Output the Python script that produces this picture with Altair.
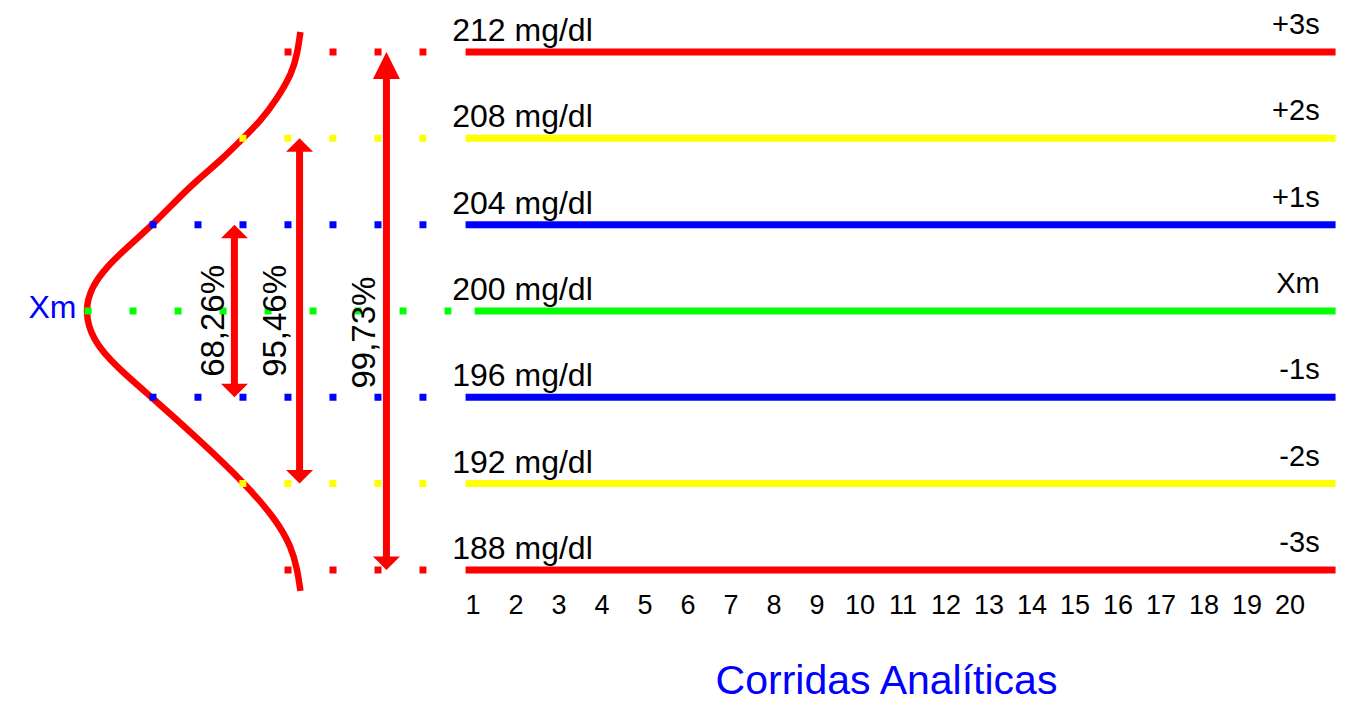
import altair as alt
import pandas as pd

FONT = "Liberation Sans"

# control levels (mg/dl) and their annotations
levels = [212, 208, 204, 200, 196, 192, 188]
level_text = ["212 mg/dl", "208 mg/dl", "204 mg/dl", "200 mg/dl", "196 mg/dl", "192 mg/dl", "188 mg/dl"]
sd_text = ["+3s", "+2s", "+1s", "Xm", "-1s", "-2s", "-3s"]
level_colors = ["#ff0000", "#ffff00", "#0000ff", "#00ff00", "#0000ff", "#ffff00", "#ff0000"]
line_start = [0.84, 0.84, 0.84, 1.05, 0.84, 0.84, 0.84]
line_end = [21.07, 21.07, 21.07, 21.07, 21.07, 21.07, 21.07]
dot_start = [-3.37, -4.42, -6.51, -8.02, -6.51, -4.42, -3.37]
dot_end = [-0.07, -0.07, -0.07, 0.51, -0.07, -0.07, -0.07]
runs = list(range(1, 21))

# bell curve
curve_x = [-3.00, -3.07, -3.19, -3.56, -3.91, -4.35, -4.84, -5.40, -5.88, -6.44, -7.02, -7.51, -7.86, -8.02,
           -7.84, -7.28, -6.44, -5.35, -4.30, -3.56, -3.21, -3.07, -3.00]
curve_y = [212.93, 211.96, 211.03, 209.78, 208.85, 207.97, 207.00, 206.07, 205.14, 203.99, 202.97, 202.04, 201.11, 200.0,
           198.66, 197.40, 195.97, 194.02, 192.03, 190.32, 189.06, 188.0, 187.03]

# percentage arrows
pct_text = ["68,26%", "95,46%", "99,73%"]
arrow_x = [-4.535, -3.02, -1.0]
arrow_top = [204, 208, 212]
arrow_bottom = [196, 192, 188]
pct_x = [-5.02, -3.56, -1.51]
pct_y = [199.54, 199.54, 199.0]

xm_left_x = -8.21
sd_label_x = 20.7
level_label_x = 0.53

X = alt.Scale(domain=[-9.8, 21.15], nice=False, zero=False)
Y = alt.Scale(domain=[187.07, 214.04], nice=False, zero=False)
TITLE = "Corridas Analíticas"
XAXIS = alt.Axis(values=runs, domain=False, ticks=False, tickSize=0, grid=False,
                 labelFontSize=27, labelFont=FONT, labelColor="black", labelPadding=2,
                 labelFlush=False, labelOverlap=False, format="d",
                 title=TITLE, titleFontSize=41, titleFont=FONT, titleColor="#0000ff",
                 titleFontWeight="normal", titleX=878, titleY=103, titleAlign="center",
                 titleBaseline="alphabetic")


def xq(f):
    return alt.X(f, type="quantitative", scale=X, axis=XAXIS, title=TITLE)


def yq(f):
    return alt.Y(f, type="quantitative", scale=Y, axis=None)


lv = pd.DataFrame({"level": levels, "ltext": level_text, "sd": sd_text, "color": level_colors,
                   "start": line_start, "end": line_end, "dstart": dot_start, "dend": dot_end,
                   "lx": [level_label_x] * 7, "sx": [sd_label_x] * 7})
cv = pd.DataFrame({"x": curve_x, "y": curve_y, "i": list(range(len(curve_x)))})
ar = pd.DataFrame({"x": arrow_x, "top": arrow_top, "bottom": arrow_bottom,
                   "px": pct_x, "py": pct_y, "t": pct_text})
ar["s1"] = ar["top"] - 0.45
ar["s2"] = ar["bottom"] + 0.45

solid = alt.Chart(lv).mark_rule(strokeWidth=7, strokeCap="butt").encode(
    x=xq("start"), x2="end", y=yq("level"), color=alt.Color("color:N", scale=None))

curve = alt.Chart(cv).mark_line(color="#ff0000", strokeWidth=6.5, interpolate="basis").encode(
    x=xq("x"), y=yq("y"), order="i:Q")

shafts = alt.Chart(ar).mark_rule(color="#ff0000", strokeWidth=7, strokeCap="butt").encode(
    x=xq("x"), y=yq("s1"), y2="s2")

heads_up_small = alt.Chart(ar.iloc[:2]).mark_point(
    shape="M0,0L1,1L-1,1Z", filled=True, size=729, color="#ff0000", opacity=1, strokeWidth=0).encode(
    x=xq("x"), y=yq("top"))
heads_up_big = alt.Chart(ar.iloc[2:]).mark_point(
    shape="M0,0L1,2L-1,2Z", filled=True, size=729, color="#ff0000", opacity=1, strokeWidth=0).encode(
    x=xq("x"), y=yq("top"))
heads_down = alt.Chart(ar).mark_point(
    shape="M0,0L1,-1L-1,-1Z", filled=True, size=729, color="#ff0000", opacity=1, strokeWidth=0).encode(
    x=xq("x"), y=yq("bottom"))

dots = alt.Chart(lv).mark_rule(strokeWidth=7, strokeDash=[7, 38], strokeCap="butt").encode(
    x=xq("dstart"), x2="dend", y=yq("level"), color=alt.Color("color:N", scale=None))

lvl_txt = alt.Chart(lv).mark_text(align="left", baseline="alphabetic", dy=-11, fontSize=32,
                                  font=FONT, color="black").encode(
    x=xq("lx"), y=yq("level"), text="ltext:N")

sd_txt = alt.Chart(lv).mark_text(align="right", baseline="alphabetic", dy=-18, fontSize=29,
                                 font=FONT, color="black").encode(
    x=xq("sx"), y=yq("level"), text="sd:N")

pct = alt.Chart(ar).mark_text(angle=270, align="center", baseline="middle", fontSize=33,
                              font=FONT, color="black").encode(
    x=xq("px"), y=yq("py"), text="t:N")

xm_df = pd.DataFrame({"x": [xm_left_x], "y": [200], "t": ["Xm"]})
xm = alt.Chart(xm_df).mark_text(align="right", baseline="alphabetic", dy=7, fontSize=32,
                                font=FONT, color="#0000ff").encode(
    x=xq("x"), y=yq("y"), text="t:N")

chart = alt.layer(solid, curve, shafts, heads_up_small, heads_up_big, heads_down, dots,
                  lvl_txt, sd_txt, pct, xm).properties(
    width=1331, height=582,
    padding={"left": 0, "top": 0, "right": 0, "bottom": 114},
    autosize="none",
    background="white",
).configure_view(strokeWidth=0)

chart.save("out.html", embed_options={"renderer": "svg", "actions": False})
